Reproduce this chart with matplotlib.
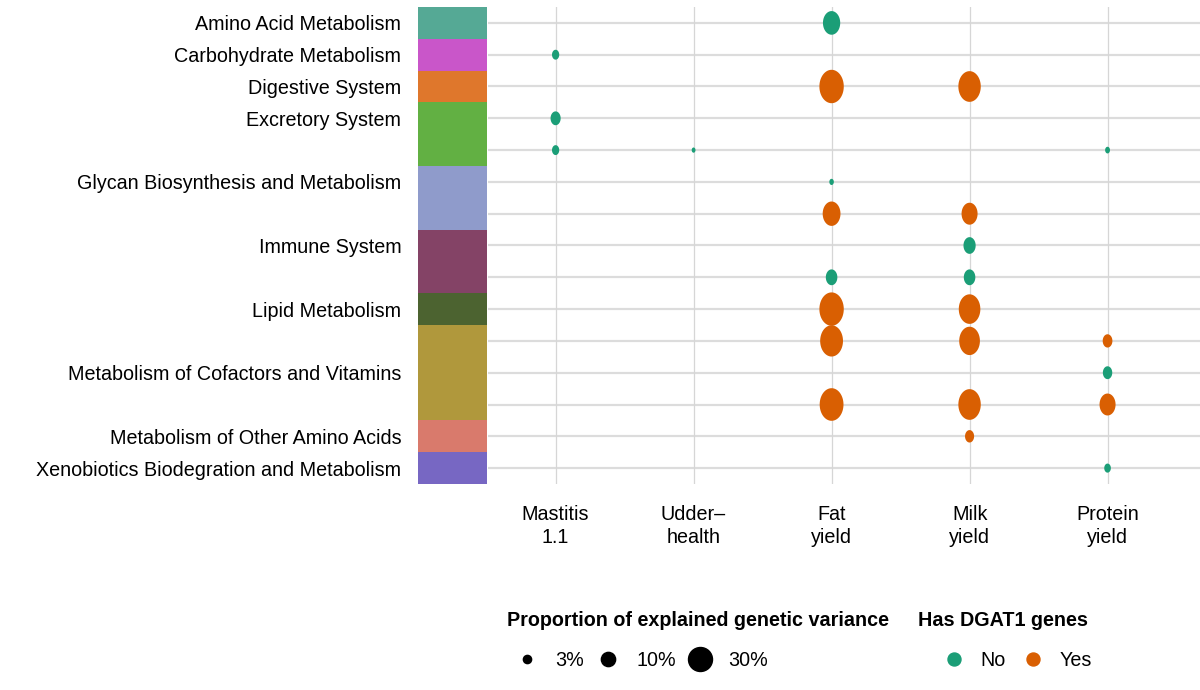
import numpy as np
import matplotlib
matplotlib.use("Agg")
import matplotlib.pyplot as plt
from matplotlib.path import Path
from matplotlib.markers import MarkerStyle
from matplotlib.lines import Line2D

plt.rcParams['font.family'] = ['Liberation Sans', 'DejaVu Sans']

# rows of the chart (top to bottom)
row_labels = ["Amino Acid Metabolism", "Carbohydrate Metabolism", "Digestive System",
              "Excretory System", "", "Glycan Biosynthesis and Metabolism", "",
              "Immune System", "", "Lipid Metabolism", "",
              "Metabolism of Cofactors and Vitamins", "",
              "Metabolism of Other Amino Acids", "Xenobiotics Biodegration and Metabolism"]
row_class = ["Amino Acid Metabolism", "Carbohydrate Metabolism", "Digestive System",
             "Excretory System", "Excretory System",
             "Glycan Biosynthesis and Metabolism", "Glycan Biosynthesis and Metabolism",
             "Immune System", "Immune System", "Lipid Metabolism",
             "Metabolism of Cofactors and Vitamins", "Metabolism of Cofactors and Vitamins",
             "Metabolism of Cofactors and Vitamins",
             "Metabolism of Other Amino Acids", "Xenobiotics Biodegration and Metabolism"]
class_colors = {
    "Amino Acid Metabolism": "#55a995",
    "Carbohydrate Metabolism": "#c956c9",
    "Digestive System": "#df772c",
    "Excretory System": "#62b043",
    "Glycan Biosynthesis and Metabolism": "#8f9bcb",
    "Immune System": "#844366",
    "Lipid Metabolism": "#4c6330",
    "Metabolism of Cofactors and Vitamins": "#b0983c",
    "Metabolism of Other Amino Acids": "#d97a6c",
    "Xenobiotics Biodegration and Metabolism": "#7767c3",
}

traits = ["Mastitis\n1.1", "Udder\u2013\nhealth", "Fat\nyield", "Milk\nyield", "Protein\nyield"]

# points: row index, trait index, % of explained genetic variance, has DGAT1
pt_row = [0, 1, 2, 2, 3, 4, 4, 4, 5, 6, 6, 7, 8, 8, 9, 9, 10, 10, 10, 11, 12, 12, 12, 13, 14]
pt_trait = [2, 0, 2, 3, 0, 0, 1, 4, 2, 2, 3, 3, 2, 3, 2, 3, 2, 3, 4, 4, 2, 3, 4, 3, 4]
pt_value = [15, 2.2, 31, 26, 4.7, 2.2, 0.45, 0.85, 0.7, 16, 12.8, 7.1, 6.3, 6.3,
            31, 24, 27, 22, 4.3, 4.0, 29.5, 26, 12.8, 3.7, 1.8]
pt_dgat = ["No", "No", "Yes", "Yes", "No", "No", "No", "No", "No", "Yes", "Yes", "No", "No", "No",
           "Yes", "Yes", "Yes", "Yes", "Yes", "No", "Yes", "Yes", "Yes", "Yes", "No"]
dgat_colors = {"No": "#1b9e77", "Yes": "#d95f02"}

legend_sizes = [3, 10, 30]

DPI = 100
PX = 72.0 / DPI          # points per pixel
STRETCH = 1.37           # panel was stretched vertically
FS = 14.2


def diam_px(v):
    return 4.2 * np.sqrt(v) + 1.0


# ellipse marker (taller than wide)
t = np.linspace(0, 2 * np.pi, 64)
ell = MarkerStyle(Path(np.column_stack([np.cos(t) / STRETCH, np.sin(t)]), closed=True))

fig = plt.figure(figsize=(12, 6.9), dpi=DPI)
W, H = 1200, 690
top, bot = 7, 484
ax = fig.add_axes([488 / W, 1 - bot / H, 712 / W, (bot - top) / H])
axb = fig.add_axes([418 / W, 1 - bot / H, 69 / W, (bot - top) / H])

n_rows = len(row_labels)

# grid
for r in range(n_rows):
    ax.axhline(r, color="#dcdcdc", lw=1.6, zorder=0)
for c in range(len(traits)):
    ax.axvline(c, color="#d6d6d6", lw=0.9, zorder=0)

sizes = [(diam_px(v) * STRETCH * PX) ** 2 for v in pt_value]
cols = [dgat_colors[d] for d in pt_dgat]
ax.scatter(pt_trait, pt_row, s=sizes, c=cols, marker=ell, linewidths=0, zorder=3)

ax.set_xlim(-0.49, 4.67)
ax.set_ylim(n_rows - 0.5, -0.5)
ax.set_xticks(range(len(traits)))
ax.set_xticklabels(traits, fontsize=FS, linespacing=1.3)
ax.tick_params(axis="x", length=0, pad=15)
ax.set_yticks([])
for s in ax.spines.values():
    s.set_visible(False)

# class colour blocks
start = 0
for i in range(1, n_rows + 1):
    if i == n_rows or row_class[i] != row_class[start]:
        axb.bar(0, i - start, bottom=start - 0.5, width=1.0,
                color=class_colors[row_class[start]], linewidth=0)
        start = i
axb.set_xlim(-0.5, 0.5)
axb.set_ylim(n_rows - 0.5, -0.5)
axb.set_xticks([])
axb.set_yticks(range(n_rows))
axb.set_yticklabels(row_labels, fontsize=FS)
axb.tick_params(axis="y", length=0, pad=12)
for s in axb.spines.values():
    s.set_visible(False)

# legends
fig.text(507 / W, 1 - 620 / H, "Proportion of explained genetic variance",
         fontsize=FS, fontweight="bold", va="center", ha="left")
fig.text(918 / W, 1 - 620 / H, "Has DGAT1 genes",
         fontsize=FS, fontweight="bold", va="center", ha="left")

size_handles = [Line2D([], [], ls="", marker="o", color="black",
                       markersize=diam_px(v) * PX) for v in legend_sizes]
fig.legend(size_handles, [f"{v}%" for v in legend_sizes], ncol=3,
           loc="center left", bbox_to_anchor=(507.5 / W, 1 - 660 / H),
           frameon=False, fontsize=FS, borderpad=0, borderaxespad=0,
           handletextpad=0.42, columnspacing=0.22, handlelength=2.0)
dg_handles = [Line2D([], [], ls="", marker="o", color=dgat_colors[k],
                     markersize=13 * PX) for k in dgat_colors]
fig.legend(dg_handles, list(dgat_colors), ncol=2,
           loc="center left", bbox_to_anchor=(934.5 / W, 1 - 660 / H),
           frameon=False, fontsize=FS, borderpad=0, borderaxespad=0,
           handletextpad=0.35, columnspacing=0.38, handlelength=2.0)

fig.savefig("out.png", dpi=DPI)
